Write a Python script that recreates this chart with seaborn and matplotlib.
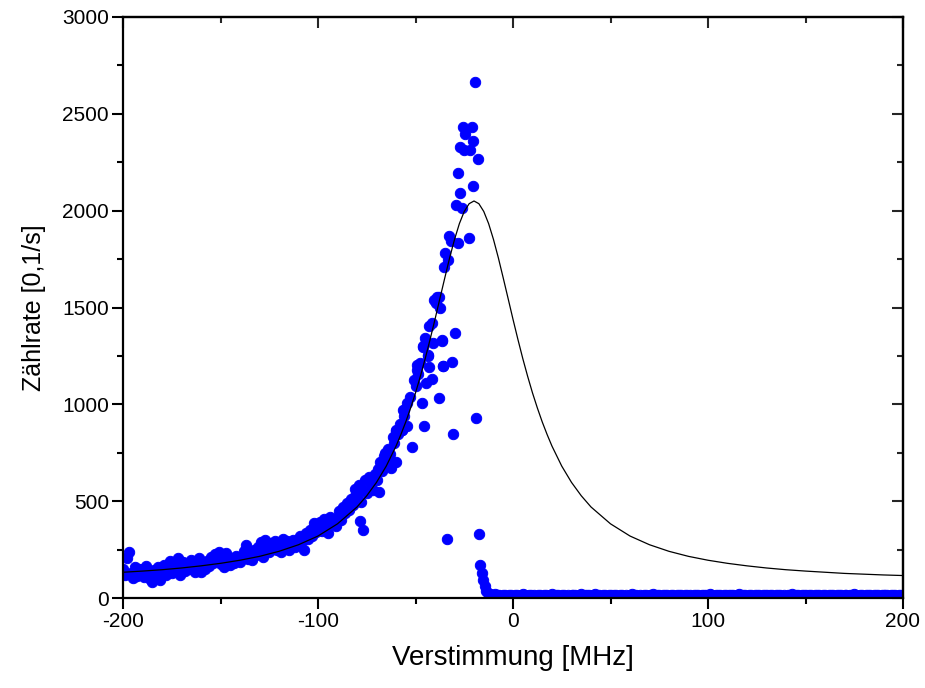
import numpy as np
import pandas as pd
import matplotlib
matplotlib.use("Agg")
import matplotlib.pyplot as plt
from matplotlib.ticker import MultipleLocator
import seaborn as sns

# --- measured count rate -------------------------------------------------
# red wing, sampled on a 1 MHz grid from -200 to -56 MHz
wing_freq = np.arange(-200, -55, 1)
wing_rate = [
    150, 118, 205, 238, 128, 105, 160, 112, 148, 130,
    150, 108, 165, 120, 98, 84, 142, 110, 160, 95,
    135, 170, 118, 155, 190, 128, 172, 145, 205, 120,
    160, 188, 140, 175, 150, 198, 162, 135, 180, 206,
    134, 172, 150, 190, 165, 210, 180, 228, 198, 238,
    175, 215, 160, 232, 190, 170, 205, 182, 218, 195,
    185, 210, 245, 274, 200, 232, 195, 250, 220, 262,
    240, 290, 213, 300, 262, 235, 285, 255, 296, 248,
    278, 240, 305, 262, 295, 250, 280, 300, 265, 290,
    275, 318, 295, 248, 335, 305, 352, 320, 386, 340,
    360, 395, 345, 410, 372, 336, 420, 385, 402, 370,
    420, 450, 405, 470, 440, 490, 455, 510, 480, 525,
    520, 585, 495, 560, 610, 540, 625, 590, 560, 640,
    610, 665, 700, 655, 735, 700, 770, 745, 690, 800,
    860, 845, 900, 870, 940,
]

# scattered readings near the resonance
peak_freq = [
    -81.2, -78.5, -76.8, -68.7, -65.6, -63.1, -62.7, -61.4, -59.9, -59.9,
    -57.1, -56.6, -55.9, -54.5, -54.5, -52.8, -51.6, -50.8, -49.7, -49.4,
    -49.0, -48.6, -47.7, -46.8, -46.3, -46.0, -45.6, -45.1, -44.6, -43.8,
    -43.4, -43.1, -42.9, -41.7, -41.7, -40.9, -40.3, -39.5, -39.1, -37.9,
    -37.8, -37.4, -36.6, -36.3, -36.0, -35.7, -35.4, -34.9, -34.0, -33.2,
    -32.8, -32.0, -31.4, -31.0, -29.7, -29.4, -28.4, -28.0, -27.2, -27.2,
    -26.3, -25.5, -25.0, -24.6, -22.6, -22.1, -21.2, -20.7, -20.4, -19.5,
    -19.0, -18.2, -17.6, -16.9, -16.0, -15.2, -14.5, -13.8,
]
peak_rate = [
    563, 399, 351, 549, 747, 712, 670, 833, 704, 867,
    867, 971, 971, 1005, 888, 1039, 781, 1125, 1094, 1177,
    1203, 1156, 1215, 1008, 1301, 1297, 888, 1341, 1112, 1254,
    1251, 1194, 1404, 1418, 1129, 1318, 1538, 1521, 1552, 1552,
    1031, 1496, 1332, 1328, 1199, 1199, 1709, 1783, 303, 1744,
    1867, 1845, 1220, 848, 1367, 2029, 1833, 2193, 2089, 2330,
    2013, 2433, 2312, 2398, 1861, 2315, 2433, 2127, 2361, 2666,
    929, 2266, 329, 170, 130, 92, 60, 35,
]

# blue side background, 1 MHz grid from -13 to 200 MHz
flat_freq = np.arange(-13, 201, 1)
flat_rate = [
    24, 20, 18, 15, 19, 13, 17, 12, 15, 18, 11, 14, 16, 10, 13, 17, 12, 15, 20, 13,
    11, 16, 14, 10, 15, 12, 18, 13, 10, 16, 14, 11, 15, 19, 12, 13, 17, 10, 14, 16,
    12, 15, 11, 18, 13, 16, 10, 14, 21, 12, 15, 13, 17, 11, 14, 19, 12, 16, 10, 13,
    15, 12, 17, 14, 11, 16, 13, 10, 15, 18, 12, 14, 11, 16, 20, 13, 15, 12, 17, 11,
    14, 16, 10, 13, 15, 19, 12, 14, 17, 11, 15, 13, 16, 10, 14, 18, 12, 15, 13, 17,
    11, 14, 16, 12, 15, 10, 13, 18, 14, 11, 16, 13, 15, 12, 19, 14, 11, 15, 13, 16,
    12, 14, 17, 10, 15, 13, 16, 11, 14, 20, 12, 15, 13, 11, 17, 14, 12, 16, 13, 15,
    11, 18, 13, 15, 12, 14, 16, 10, 13, 17, 15, 12, 14, 11, 16, 13, 19, 12, 15, 14,
    10, 16, 13, 15, 12, 17, 14, 11, 15, 13, 16, 12, 14, 18, 11, 15, 13, 16, 12, 14,
    17, 13, 11, 15, 14, 12, 16, 13, 19, 15, 11, 14, 16, 12, 13, 15, 17, 11, 14, 13,
    16, 12, 15, 13, 18, 14, 11, 15, 13, 16, 12, 14, 15, 13,
]

# --- Lorentz fit curve, tabulated ---------------------------------------
fit_freq = [
    -200, -190, -180, -170, -160, -150, -140, -130, -120, -110,
    -100, -90, -80, -75, -70, -65, -60, -57.5, -55, -52.5,
    -50, -47.5, -45, -42.5, -40, -37.5, -35, -32.5, -30, -27.5,
    -25, -22.5, -20, -17.5, -15, -12.5, -10, -7.5, -5, -2.5,
    0, 2.5, 5, 7.5, 10, 12.5, 15, 17.5, 20, 25,
    30, 35, 40, 50, 60, 70, 80, 90, 100, 110,
    120, 130, 140, 150, 160, 170, 180, 190, 200,
]
fit_rate = [
    133, 139, 146, 155, 166, 179, 195, 215, 241, 275,
    320, 383, 470, 528, 597, 681, 784, 844, 909, 981,
    1059, 1145, 1237, 1336, 1439, 1546, 1652, 1756, 1851, 1933,
    1996, 2036, 2050, 2036, 1996, 1933, 1851, 1756, 1652, 1546,
    1439, 1336, 1237, 1145, 1059, 981, 909, 844, 784, 681,
    597, 528, 470, 383, 320, 275, 241, 215, 195, 179,
    166, 155, 146, 139, 133, 127, 123, 119, 116,
]

x_label = "Verstimmung [MHz]"
y_label = "Zählrate [0,1/s]"
x_ticks = [-200, -100, 0, 100, 200]
y_ticks = [0, 500, 1000, 1500, 2000, 2500, 3000]

data = pd.DataFrame({
    "freq": np.concatenate([wing_freq, peak_freq, flat_freq]),
    "rate": np.concatenate([wing_rate, peak_rate, flat_rate]),
})
fit = pd.DataFrame({"freq": fit_freq, "rate": fit_rate})

sns.set_theme(style="ticks")
plt.rcParams["font.family"] = ["Liberation Sans", "DejaVu Sans"]
plt.rcParams["axes.unicode_minus"] = False

fig = plt.figure(figsize=(9.25, 6.88), dpi=100)
ax = fig.add_axes([123 / 925, 1 - 598 / 688, 780 / 925, 581 / 688])

sns.scatterplot(data=data, x="freq", y="rate", ax=ax, color="#0000ff",
                s=56, edgecolor="#0000ff", linewidth=0.7, legend=False,
                zorder=2)
sns.lineplot(data=fit, x="freq", y="rate", ax=ax, color="black",
             linewidth=0.9, errorbar=None, zorder=3)

ax.set_xlim(-200, 200)
ax.set_ylim(0, 3000)
ax.set_xticks(x_ticks)
ax.set_yticks(y_ticks)
ax.xaxis.set_minor_locator(MultipleLocator(50))
ax.yaxis.set_minor_locator(MultipleLocator(250))

spine_w = 1.6
for sp in ax.spines.values():
    sp.set_visible(True)
    sp.set_linewidth(spine_w)
    sp.set_color("black")
    sp.set_zorder(4)

ax.tick_params(which="major", direction="out", length=8, width=1.5,
               labelsize=15, pad=2, colors="black")
ax.tick_params(which="minor", direction="out", length=4.5, width=1.5,
               colors="black")

# inward ticks on the top and right frame
top = ax.secondary_xaxis("top")
top.set_xticks(x_ticks)
top.xaxis.set_minor_locator(MultipleLocator(50))
top.tick_params(which="major", direction="in", length=8, width=1.5, labeltop=False)
top.tick_params(which="minor", direction="in", length=4.5, width=1.5)
top.spines["top"].set_linewidth(spine_w)

right = ax.secondary_yaxis("right")
right.set_yticks(y_ticks)
right.yaxis.set_minor_locator(MultipleLocator(250))
right.tick_params(which="major", direction="in", length=8, width=1.5, labelright=False)
right.tick_params(which="minor", direction="in", length=4.5, width=1.5)
right.spines["right"].set_linewidth(spine_w)

ax.set_xlabel(x_label, fontsize=20, labelpad=10, color="black")
ax.set_ylabel(y_label, fontsize=18, labelpad=12, color="black")

fig.savefig("out.png", dpi=100, facecolor="white")
